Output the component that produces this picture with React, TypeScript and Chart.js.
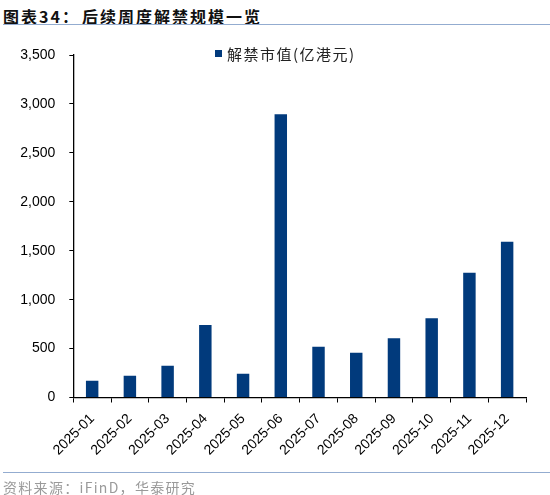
import { useEffect, useRef } from "react";
import { Chart, registerables, type Plugin } from "chart.js";

Chart.register(...registerables);

const months = [
  "2025-01", "2025-02", "2025-03", "2025-04", "2025-05", "2025-06",
  "2025-07", "2025-08", "2025-09", "2025-10", "2025-11", "2025-12",
];
// 解禁市值(亿港元)
const unlockValues = [172, 223, 325, 741, 243, 2895, 519, 458, 605, 809, 1275, 1592];
const seriesLabel = "解禁市值(亿港元)";
const yMin = 0;
const yMax = 3500;
const yStep = 500;

const BAR_COLOR = "#013a7c";
const LINE_COLOR = "#93acd0";

// legend drawn by hand: it sits partly beside the top of the plot, which the built-in legend can't do
const topLegend: Plugin<"bar"> = {
  id: "topLegend",
  afterDraw(chart) {
    const ctx = chart.ctx;
    const ds = chart.data.datasets[0];
    ctx.save();
    ctx.fillStyle = ds.backgroundColor as string;
    ctx.fillRect(215, 50, 7, 7);
    ctx.font = '15px "Noto Sans CJK SC"';
    (ctx as any).letterSpacing = "1.5px";
    ctx.fillStyle = "#222";
    ctx.textBaseline = "middle";
    ctx.fillText(ds.label ?? "", 227, 54);
    ctx.restore();
  },
};

const UnlockChart = () => {
  const canvasRef = useRef<HTMLCanvasElement | null>(null);

  useEffect(() => {
    if (!canvasRef.current) return;
    const chart = new Chart(canvasRef.current, {
      type: "bar",
      data: {
        labels: months,
        datasets: [
          {
            label: seriesLabel,
            data: unlockValues,
            backgroundColor: BAR_COLOR,
            barPercentage: 0.33,
            categoryPercentage: 1,
          },
        ],
      },
      options: {
        animation: false,
        responsive: false,
        layout: { padding: { top: 55, right: 24, bottom: 0, left: 0 } },
        plugins: {
          legend: { display: false },
          tooltip: { enabled: false },
        },
        scales: {
          x: {
            grid: {
              display: true,
              drawOnChartArea: false,
              drawTicks: true,
              tickLength: 5,
              color: "#000",
              offset: true,
            },
            border: { display: true, color: "#000", width: 1.3 },
            ticks: {
              autoSkip: false,
              minRotation: 45,
              maxRotation: 45,
              padding: 8,
              color: "#000",
              font: { family: '"Liberation Sans", Arial, sans-serif', size: 14 },
            },
            afterFit: (scale) => {
              scale.height = 97.5;
            },
          },
          y: {
            min: yMin,
            max: yMax,
            grid: {
              display: true,
              drawOnChartArea: false,
              drawTicks: true,
              tickLength: 4,
              color: "#000",
            },
            border: { display: true, color: "#000", width: 1.3 },
            ticks: {
              stepSize: yStep,
              padding: 14,
              color: "#000",
              font: { family: '"Liberation Sans", Arial, sans-serif', size: 14 },
              callback: (v) => Number(v).toLocaleString("en-US"),
            },
            afterFit: (scale) => {
              scale.width = 73.3;
            },
          },
        },
      },
      plugins: [topLegend],
    });
    return () => {
      chart.destroy();
    };
  }, []);

  return <canvas ref={canvasRef} width={550} height={495} style={{ position: "absolute", left: 0, top: 0 }} />;
};

export default function App() {
  return (
    <div style={{ position: "absolute", left: 0, top: 0, width: 550, height: 495, background: "#fff" }}>
      <div
        style={{
          position: "absolute",
          left: 3,
          top: 8,
          lineHeight: "16px",
          fontSize: 16,
          fontWeight: 700,
          letterSpacing: "2px",
          fontFamily: '"Noto Sans CJK SC", sans-serif',
          color: "#111",
          whiteSpace: "nowrap",
        }}
      >
        图表34：<span style={{ marginLeft: 2 }}>后续周度解禁规模一览</span>
      </div>
      <div style={{ position: "absolute", left: 3, top: 24, width: 547, borderTop: `1.5px solid ${LINE_COLOR}` }} />
      <UnlockChart />
      <div style={{ position: "absolute", left: 3, top: 472, width: 547, borderTop: `1.5px solid ${LINE_COLOR}` }} />
      <div
        style={{
          position: "absolute",
          left: 3,
          top: 479,
          lineHeight: "16px",
          fontSize: 14,
          letterSpacing: "1.3px",
          fontFamily: '"Noto Sans CJK SC", sans-serif',
          color: "#9a9a9a",
          whiteSpace: "nowrap",
        }}
      >
        资料来源：iFinD，华泰研究
      </div>
    </div>
  );
}
